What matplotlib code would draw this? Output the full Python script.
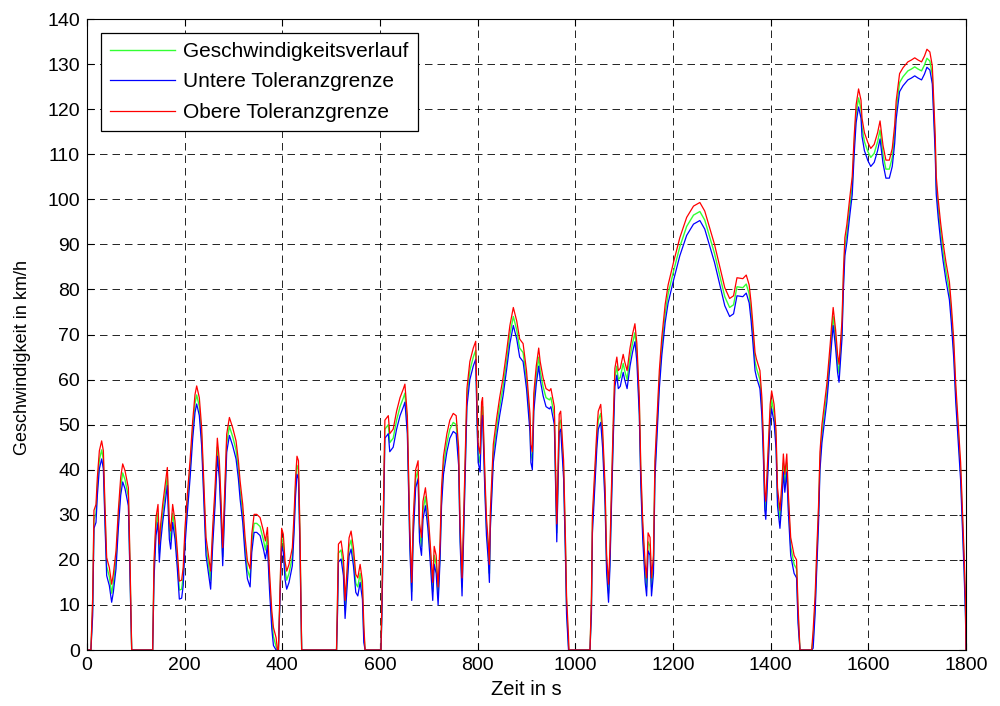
import numpy as np
import matplotlib.pyplot as plt

# Fahrzyklus: Stuetzstellen Zeit (s) / Geschwindigkeit (km/h), je Phase
t_low = [0, 8, 11.6, 14.3, 18.4, 21.2, 25.3, 30, 33.5, 36.9, 40.3, 45.7, 50.5, 53.9,
         59.4, 64.2, 69, 73.1, 77.8, 84.7, 88.1, 91.5, 134.5, 137.2, 141.3, 145.4,
         148.1, 150.9, 155, 164.5, 168.6, 171.4, 175.4, 180.2, 185, 189.1, 193.8,
         197, 200.7, 205.5, 211, 216.4, 221.2, 224.6, 230, 234.8, 239.6, 243.7,
         248.5, 253.2, 257.4, 262.2, 266.9, 271, 274.5, 277.9, 281.3, 286.1, 291.6,
         298.4, 305.2, 310, 313.5, 318.9, 323.7, 328.5, 334, 337.4, 342.2, 347.6,
         354.4, 361.3, 365.4, 369.5, 373.6, 378.4, 381.8, 387.3, 390, 392, 397.3,
         398.6, 402, 405.5, 408.9, 413.7, 417.8, 420.5, 424, 427, 430, 433, 436,
         439.6, 511, 513, 514.9, 520.3, 525.1, 528.5, 531.9, 536.7, 540.8, 545.6,
         550.4, 554.5, 559.3, 564, 566.8, 569.5, 589]
v_low = [0, 0, 9.6, 29, 30.3, 36.3, 42.2, 44.4, 42.2, 29.6, 18.5, 16.3, 12.6, 14.8,
         20, 29, 36.3, 39.3, 37.8, 34, 17.7, 0, 0, 17.7, 27.4, 30.3,
         21.5, 26, 30.3, 38.5, 26.6, 24.4, 30.3, 26.6, 20, 13.3, 13.5,
         16.3, 25.2, 32.5, 40, 48.8, 54.7, 56.6, 54, 47.3, 34, 23,
         19.2, 15.5, 25.2, 34, 45, 40, 31, 20.7, 31, 45.9, 49.6,
         47.3, 44.4, 40, 35.5, 30.3, 23, 17.8, 16, 23.7, 28.1, 28.1,
         27.4, 24.4, 22.2, 25.2, 15.6, 6.7, 3, 0.7, 0, 0, 20,
         25, 23.7, 17.7, 15.5, 17, 19.2, 20.7, 28, 36, 41, 40, 25,
         0, 0, 10, 21.5, 22.2, 18.5, 9, 14.8, 22.9, 24.4, 20.7,
         14.8, 14, 17, 13.3, 3.7, 0, 0]

t_mid = [602, 604, 607, 610, 617, 620, 627, 634, 641, 648, 651, 656, 658, 661, 665,
         668, 673, 678, 681, 685, 688, 693, 698, 702, 708, 711, 715, 719, 723, 726,
         730, 737, 743, 750, 756, 761, 764, 768, 771, 778, 784, 791, 796, 799, 801,
         805, 808, 810, 815, 818, 822, 824, 826, 832, 839, 845, 852, 859, 866, 873,
         880, 886, 893, 900, 907, 909, 912, 915, 920, 925, 928, 934, 940, 947, 950,
         957, 960, 962, 967, 970, 976, 980, 982, 986, 987, 1022]
v_mid = [0, 10, 30, 49, 50, 46, 47, 51, 54, 56, 57, 50, 40, 25, 13,
         27, 38, 40, 26, 23, 31, 34, 29, 23, 13, 21, 19, 12, 22, 34,
         41, 46, 49, 50.5, 50, 43, 26, 14, 26, 56, 62, 65, 66.5, 51, 43.6,
         41.5, 53, 54, 36.3, 27.4, 21.5, 17, 28.9, 43.6, 49.5, 54, 58.4, 64, 70, 74,
         71, 67, 66, 60, 50.5, 43.6, 42, 55, 61, 65, 62, 58.4, 56, 55.5, 56,
         52, 36, 26, 50.3, 51, 40, 21.5, 10, 1, 0, 0]

t_high = [1030, 1033, 1035, 1040, 1044, 1047, 1052, 1056, 1061, 1064, 1068, 1071,
          1074, 1078, 1081, 1085, 1088, 1092, 1098, 1101, 1106, 1112, 1117, 1122,
          1126, 1131, 1134, 1138, 1143, 1146, 1149, 1153, 1156, 1160, 1163, 1168,
          1172, 1177, 1184, 1190, 1201, 1214, 1228, 1242, 1255, 1265, 1275, 1285,
          1296, 1306, 1316, 1324, 1331, 1343, 1350, 1356, 1360, 1363, 1368, 1371,
          1378, 1382, 1385, 1388, 1390, 1395, 1399, 1402, 1407, 1411, 1414, 1419,
          1423, 1426, 1429, 1433, 1436, 1441, 1448, 1453, 1456, 1460, 1477]
v_high = [0, 10, 28, 38.5, 46.7, 51, 52.5, 46.7, 34, 19.2, 12.6, 20.7,
          34, 50, 60.5, 63, 60, 60.5, 63.6, 62, 60, 65, 68, 70.4,
          66, 54, 39, 26.6, 17, 14, 24, 23, 14, 19, 40, 51,
          60, 67.3, 74.7, 79, 84, 89.5, 94, 96.5, 97.3, 95.4, 91.7, 88,
          83, 78.4, 76, 76.6, 80.6, 80.4, 81.2, 79, 75, 71, 64, 62.5,
          60, 54, 45, 33, 31, 43, 52.5, 55.5, 52.5, 46.7, 34, 29,
          35, 41.5, 37, 41.5, 33, 23, 19, 18, 8, 0, 0]

t_xhigh = [1484, 1487, 1491, 1494, 1498, 1501, 1505, 1510, 1515, 1522, 1525, 1528,
           1533, 1537, 1540, 1546, 1549, 1552, 1556, 1562, 1567, 1571, 1575, 1580,
           1585, 1587, 1592, 1599, 1605, 1612, 1619, 1624, 1630, 1636, 1643, 1649,
           1654, 1657, 1664, 1671, 1681, 1688, 1695, 1702, 1709, 1715, 1720, 1726,
           1731, 1734, 1737, 1739, 1743, 1748, 1753, 1759, 1766, 1770, 1775, 1779,
           1784, 1789, 1793, 1796, 1799, 1800]
v_xhigh = [0, 2.4, 10, 19, 30, 42, 48, 52.5, 57, 66, 70.3, 74,
           69, 63.6, 61.4, 71, 82, 89.5, 92.4, 98.4, 103, 112, 119, 122.5,
           120, 116, 112.8, 110.6, 109.3, 110.2, 112.8, 115.4, 110, 106.7, 106.7, 109.3,
           114.5, 119.8, 125.9, 127.2, 128.5, 128.9, 129.4, 128.9, 128.5, 129.8, 131.3, 130.7,
           127.6, 119.8, 112, 103.2, 98, 92.8, 88.4, 84, 79.7, 74.5, 66.6, 57,
           48.3, 39.6, 28.3, 19.6, 9.1, 0]

tol_v = 2.0  # km/h

t = np.array(t_low + t_mid + t_high + t_xhigh, dtype=float)
v = np.array(v_low + v_mid + v_high + v_xhigh, dtype=float)
v_up = np.where(v > 0, v + tol_v, 0.0)
v_lo = np.clip(v - tol_v, 0, None)

plt.rcParams['font.family'] = ['Liberation Sans', 'DejaVu Sans']
fig = plt.figure(figsize=(10, 7.06), dpi=100)
ax = fig.add_axes([0.087, 0.0793, 0.879, 0.8937])

ax.plot(t, v, color='#33ff33', lw=1.0, label='Geschwindigkeitsverlauf')
ax.plot(t, v_lo, color='#0000ff', lw=0.9, label='Untere Toleranzgrenze')
ax.plot(t, v_up, color='#ff0000', lw=0.9, label='Obere Toleranzgrenze')

ax.set_xlim(0, 1800)
ax.set_ylim(0, 140)
ax.set_xticks(np.arange(0, 1801, 200))
ax.set_yticks(np.arange(0, 141, 10))
ax.grid(True, color='k', lw=0.6, linestyle=(0, (9, 6)))
ax.tick_params(direction='in', length=5, top=True, right=True, labelsize=14, pad=5)
for s in ax.spines.values():
    s.set_linewidth(0.8)

ax.set_xlabel('Zeit in s', fontsize=14.5, labelpad=4)
ax.set_ylabel('Geschwindigkeit in km/h', fontsize=13)
ax.yaxis.set_label_coords(-0.064, 0.463)

leg = ax.legend(loc='upper left', fontsize=15, handlelength=3.1, handletextpad=0.4,
                fancybox=False, edgecolor='k', framealpha=1, borderaxespad=0.65,
                labelspacing=0.55, borderpad=0.45)
leg.get_frame().set_linewidth(0.9)

fig.savefig('out.png', dpi=100, facecolor='white')
